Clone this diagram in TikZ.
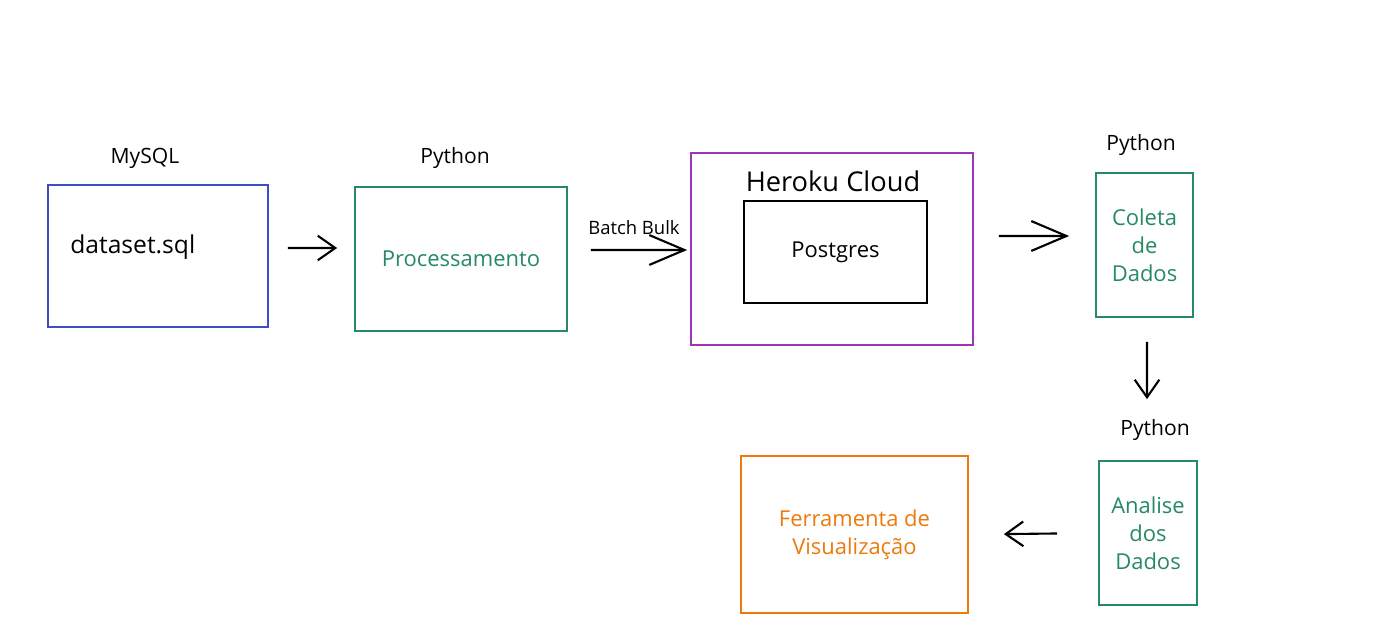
\documentclass[tikz,border=0pt]{standalone}
\usepackage{fontspec}
\setmainfont{Open Sans}
\usepackage{xcolor}
\usetikzlibrary{arrows.meta}
\definecolor{sqlblue}{HTML}{3B4EC8}
\definecolor{pygreen}{HTML}{268A62}
\definecolor{herokupurple}{HTML}{9C36B5}
\definecolor{vizorange}{HTML}{EC7A0C}
\begin{document}
\begin{tikzpicture}[auto,
    box/.style={draw, line width=1pt, inner sep=0pt},
    lbl/.style={font=\fontsize{12}{14}\selectfont},
    txt/.style={font=\fontsize{12.5}{16}\selectfont, align=center},
    arr/.style={-{Straight Barb[length=10pt,width=14pt]}, line width=1.2pt},
    bigarr/.style={-{Straight Barb[length=20pt,width=17pt]}, line width=1.2pt}]
      \useasboundingbox (0,0) rectangle (27.54,12.84);
      \node[box, sqlblue, minimum width=4.4cm, minimum height=2.84cm] (dataset) at (3.16, 7.72) {};
      \node[font=\fontsize{14}{16}\selectfont, anchor=west, inner sep=0pt] (datasettxt) at (1.4, 7.9) {dataset.sql};
      \node[lbl] (mysql) at (2.9, 9.68) {MySQL};
      \node[box, pygreen, txt, minimum width=4.24cm, minimum height=2.88cm] (proc) at (9.22, 7.66) {Processamento};
      \node[lbl] (python1) at (9.1, 9.68) {Python};
      \node[box, herokupurple, minimum width=5.64cm, minimum height=3.84cm] (heroku) at (16.64, 7.86) {};
      \node[font=\fontsize{15.5}{18}\selectfont] (herokutxt) at (16.66, 9.22) {Heroku Cloud};
      \node[box, black, txt, minimum width=3.66cm, minimum height=2.04cm] (postgres) at (16.71, 7.8) {Postgres};
      \node[font=\fontsize{10.5}{12}\selectfont] (batch) at (12.68, 8.28) {Batch Bulk};
      \node[box, pygreen, txt, minimum width=1.94cm, minimum height=2.88cm] (coleta) at (22.89, 7.94) {Coleta\\de\\Dados};
      \node[lbl] (python2) at (22.82, 9.94) {Python};
      \node[lbl] (python3) at (23.1, 4.24) {Python};
      \node[box, pygreen, txt, minimum width=1.96cm, minimum height=2.88cm] (analise) at (22.96, 2.18) {Analise\\dos\\Dados};
      \node[box, vizorange, txt, minimum width=4.54cm, minimum height=3.14cm] (viz) at (17.09, 2.15) {Ferramenta de\\Visualização};
      \draw [arr, shorten <=0.38cm, shorten >=0.34cm] ([yshift=0.16cm]dataset.east) to ([yshift=0.22cm]proc.west);
      \draw [bigarr, shorten <=0.46cm, shorten >=0.06cm] ([yshift=0.18cm]proc.east) to ([yshift=-0.02cm]heroku.west);
      \draw [bigarr, shorten <=0.5cm, shorten >=0.52cm] ([yshift=0.26cm]heroku.east) to ([yshift=0.18cm]coleta.west);
      \draw [arr, shorten <=0.48cm, shorten >=1.22cm] ([xshift=0.05cm]coleta.south) to ([xshift=-0.02cm]analise.north);
      \draw [arr, shorten <=0.82cm, shorten >=0.7cm] (analise.west) to (viz.east);
    \end{tikzpicture}
\end{document}
